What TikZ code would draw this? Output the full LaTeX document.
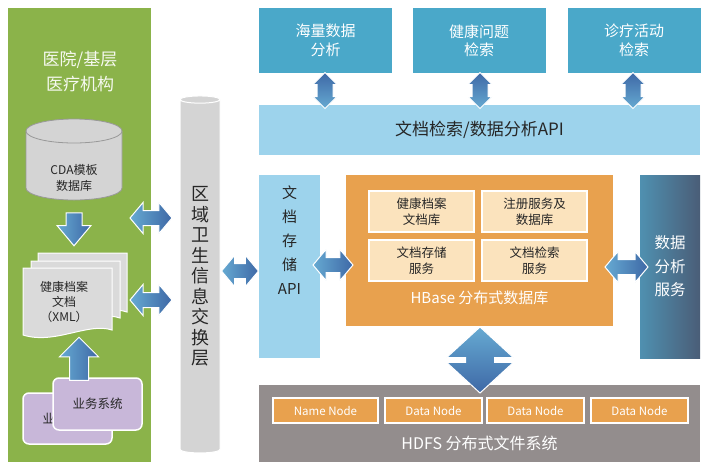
\documentclass[tikz,border=0pt]{standalone}
\usepackage{fontspec}
\setmainfont{Noto Sans CJK SC}
\usepackage{tikz}
\usetikzlibrary{shapes.geometric, shapes.arrows, positioning}

\definecolor{hospgreen}{HTML}{8BB34A}
\definecolor{topblue}{HTML}{4AA8C9}
\definecolor{apiblue}{HTML}{9DD3EC}
\definecolor{hbaseorange}{HTML}{E8A14E}
\definecolor{cream}{HTML}{FBE3BD}
\definecolor{hdfsgray}{HTML}{938D8D}
\definecolor{cylgray}{HTML}{D4D4D4}
\definecolor{docgray}{HTML}{DADADA}
\definecolor{syspurple}{HTML}{C8B7D9}
\definecolor{arrlight}{HTML}{66AAD2}
\definecolor{arrdark}{HTML}{3E68A6}
\definecolor{darktext}{HTML}{262626}
\definecolor{slateleft}{HTML}{4F90B0}
\definecolor{slateright}{HTML}{4A5D77}

\begin{document}
\begin{tikzpicture}[x=1pt,y=-1pt,
    box/.style={rectangle,inner sep=0pt,align=center},
    topbox/.style={box,fill=topblue,text=white,minimum width=133pt,minimum height=65pt,
                   font=\fontsize{15}{18.5}\selectfont},
    innerbox/.style={box,fill=cream,draw=white,line width=1.5pt,text=darktext,
                     minimum width=105pt,minimum height=41pt,font=\fontsize{12.5}{16.5}\selectfont},
    hdfsnode/.style={box,fill=hbaseorange,draw=white,line width=1.5pt,text=white,
                     minimum height=25pt,font=\fontsize{11.5}{14}\selectfont},
    sysbox/.style={box,fill=syspurple,draw=white,line width=1.5pt,rounded corners=6pt,
                   minimum width=89pt,text=darktext,font=\fontsize{12.5}{15}\selectfont},
    hbiarrow/.style={double arrow,inner sep=7pt,double arrow head extend=8pt,
                     double arrow tip angle=100,left color=arrlight,right color=arrdark,
                     draw=white,line width=1pt},
    vbiarrow/.style={double arrow,shape border rotate=90,inner sep=7.5pt,
                     double arrow head extend=4pt,double arrow tip angle=90,
                     top color=arrdark,bottom color=arrlight,draw=white,line width=1pt},
    page/.style={fill=docgray,draw=white,line width=1pt}]

  \useasboundingbox (0,0) rectangle (704,467);

  % hospital side
  \node[box,fill=hospgreen,minimum width=143pt,minimum height=454pt] (hosp) at (79.5,235) {};
  \node[box,text=white!92!hospgreen,font=\fontsize{17}{25}\selectfont] (hosptitle) at (80,71)
       {医院/基层\\医疗机构};
  \filldraw[fill=cylgray,draw=gray!80,line width=0.8pt]
       (26,131) -- (26,188) arc[start angle=180,end angle=0,x radius=48,y radius=12] -- (122,131);
  \filldraw[fill=cylgray,draw=gray!80,line width=0.8pt] (74,131) ellipse[x radius=48,y radius=12];
  \node[box,minimum width=96pt,minimum height=81pt] (cda) at (74,160) {};
  \node[box,text=darktext,font=\fontsize{12}{16}\selectfont] (cdatext) at (74,178) {CDA模板\\数据库};

  \filldraw[page] (38,253) -- (127,253) -- (127,312) .. controls (105,304) and (70,326) .. (38,315) -- cycle;
  \filldraw[page] (31,261) -- (120,261) -- (120,318) .. controls (98,310) and (63,332) .. (31,322) -- cycle;
  \filldraw[page] (23,268) -- (112,268) -- (112,330) .. controls (88,322) and (55,345) .. (23,335) -- cycle;
  \node[box,text=darktext,font=\fontsize{12}{15}\selectfont] (doc) at (64,302) {健康档案\\文档\\（XML）};

  \node[single arrow,shape border rotate=270,inner sep=7.5pt,single arrow head extend=9pt,
        single arrow tip angle=80,minimum height=33pt,left color=arrlight,right color=arrdark,
        draw=white,line width=1pt] (cda2doc) at (74,224.5) {};

  \node[sysbox,minimum height=51pt] (sysback) at (67.5,418.5) {业务系统};
  \node[sysbox,minimum height=52pt] (sysfront) at (97.5,404) {业务系统};

  \node[single arrow,shape border rotate=90,inner sep=9pt,single arrow head extend=10pt,
        single arrow tip angle=90,minimum height=43pt,left color=arrlight,right color=arrdark,
        draw=white,line width=1pt] (sys2doc) at (79,363.5) {};

  % exchange layer
  \node[cylinder,shape border rotate=90,aspect=0.4,fill=cylgray,draw=white,line width=1pt,
        minimum width=40pt,minimum height=357pt,inner sep=0pt,align=center,text=darktext,
        font=\fontsize{18}{20.5}\selectfont] (exch) at (200,276.5)
       {区\\域\\卫\\生\\信\\息\\交\\换\\层};

  \node[hbiarrow,minimum height=42pt] (a1) at (151,218) {};
  \node[hbiarrow,minimum height=42pt] (a2) at (151,300) {};
  \node[hbiarrow,minimum height=37pt] (a3) at (240,271) {};

  % applications
  \node[topbox] (mass) at (325.5,40.5) {海量数据\\分析};
  \node[topbox] (health) at (479,40.5) {健康问题\\检索};
  \node[topbox] (clinic) at (634,40.5) {诊疗活动\\检索};
  \node[box,fill=apiblue,text=darktext,minimum width=441pt,minimum height=50pt,
        font=\fontsize{17}{20}\selectfont] (searchapi) at (479.5,130) {文档检索/数据分析API};
  \foreach \n/\x in {mass/325,health/480,clinic/633}
    \node[vbiarrow,minimum height=36pt] (\n arrow) at (\x,90.5) {};

  % storage
  \node[box,fill=apiblue,minimum width=61pt,minimum height=183pt,
        label={[yshift=26pt,align=center,text=darktext,font=\fontsize{15}{24}\selectfont]center:文\\档\\存\\储\\API}]
       (storeapi) at (289.5,266.5) {};
  \node[box,fill=hbaseorange,minimum width=267pt,minimum height=151pt] (hbase) at (479.5,250.5) {};
  \node[innerbox] (healthlib) at (421.5,211.5) {健康档案\\文档库};
  \node[innerbox] (reglib) at (534.5,211.5) {注册服务及\\数据库};
  \node[innerbox] (storesvc) at (421.5,260.5) {文档存储\\服务};
  \node[innerbox] (searchsvc) at (534.5,260.5) {文档检索\\服务};
  \node[box,text=white,font=\fontsize{15}{18}\selectfont] (hbaselabel) at (479.5,298) {HBase 分布式数据库};
  \node[box,left color=slateleft,right color=slateright,minimum width=60pt,minimum height=183pt,
        text=white,font=\fontsize{15.5}{23.5}\selectfont] (anasvc) at (670,266.5) {数据\\分析\\服务};
  \node[hbiarrow,minimum height=40pt] (a4) at (333,265) {};
  \node[hbiarrow,minimum height=43pt] (a5) at (626.5,267) {};

  % hdfs
  \node[box,fill=hdfsgray,minimum width=441pt,minimum height=77pt] (hdfs) at (479.5,423.5) {};
  \node[hdfsnode,minimum width=105pt] (namenode) at (325.5,410.5) {Name Node};
  \node[hdfsnode,minimum width=97pt] (datanode1) at (433.5,410.5) {Data Node};
  \node[hdfsnode,minimum width=97pt] (datanode2) at (535.5,410.5) {Data Node};
  \node[hdfsnode,minimum width=97pt] (datanode3) at (639.5,410.5) {Data Node};
  \node[box,text=white,font=\fontsize{16}{19}\selectfont] (hdfslabel) at (479.5,443) {HDFS 分布式文件系统};
  \node[double arrow,shape border rotate=90,inner sep=14pt,double arrow head extend=19pt,
        double arrow tip angle=95,minimum height=66pt,top color=arrlight,bottom color=arrdark,
        draw=white,line width=1pt] (hbase2hdfs) at (480,360) {};
\end{tikzpicture}
\end{document}
